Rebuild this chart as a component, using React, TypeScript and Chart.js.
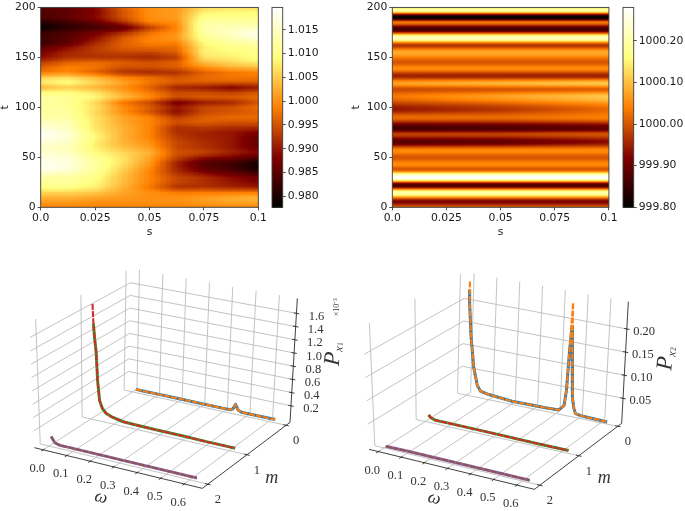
import React, { useEffect, useRef } from "react";
import { Chart, registerables } from "chart.js";

Chart.register(...registerables);

// ---------- heat map A (t from 200 down to 0, s columns) ----------
const sTicks = [0, 0.025, 0.05, 0.075, 0.1];
const sTickLabels = ["0.0", "0.025", "0.05", "0.075", "0.1"];
const tTicks = [0, 50, 100, 150, 200];
const fieldAS = [0, 0.0125, 0.025, 0.0375, 0.05, 0.0625, 0.075, 0.0875, 0.1];
const fieldAT = [200,195,190,185,180,175,170,165,160,155,150,145,140,135,130,125,120,115,110,105,100,95,90,85,80,75,70,65,60,55,50,45,40,35,30,25,20,15,10,5,0];
const fieldA = [
  [.985,.986,.989,.996,1.000,1.001,1.006,1.007,1.006],
  [.984,.985,.988,.995,1.000,1.001,1.008,1.009,1.009],
  [.984,.986,.989,.995,1.000,1.001,1.010,1.010,1.010],
  [.981,.983,.986,.992,.999,1.000,1.012,1.012,1.012],
  [.978,.981,.983,.985,.993,.999,1.013,1.014,1.014],
  [.982,.984,.987,.991,.997,1.000,1.012,1.015,1.018],
  [.983,.985,.989,.995,.999,1.001,1.011,1.014,1.017],
  [.982,.985,.991,.996,.999,.999,1.009,1.012,1.013],
  [.985,.989,.993,.996,.997,.997,1.008,1.010,1.011],
  [.988,.991,.993,.994,.994,.996,1.008,1.009,1.010],
  [.989,.992,.992,.992,.991,.993,1.007,1.008,1.010],
  [.993,.996,.997,.996,.995,.996,1.004,1.006,1.008],
  [.996,.999,.998,.995,.995,.996,1.000,1.003,1.004],
  [.998,.999,.996,.992,.991,.992,.996,.998,.999],
  [1.005,1.006,1.003,.999,.997,.995,.997,.998,.998],
  [1.008,1.010,1.006,1.002,.998,.996,.996,.996,.996],
  [1.003,1.005,1.003,1.000,.996,.991,.990,.988,.990],
  [1.009,1.009,1.007,1.002,.998,.994,.994,.993,.995],
  [1.012,1.011,1.009,1.004,1.000,.995,.996,.996,.997],
  [1.012,1.011,1.006,.998,.994,.987,.990,.991,.995],
  [1.012,1.011,1.007,1.000,.996,.990,.994,.995,.997],
  [1.012,1.012,1.006,1.000,.995,.989,.994,.995,.996],
  [1.012,1.012,1.007,1.002,.999,.993,.996,.997,.997],
  [1.015,1.014,1.007,1.002,.999,.995,.996,.995,.995],
  [1.016,1.014,1.007,1.003,.999,.992,.993,.992,.992],
  [1.019,1.016,1.008,1.003,.999,.992,.991,.990,.988],
  [1.019,1.016,1.009,1.003,.999,.993,.991,.990,.986],
  [1.017,1.015,1.008,1.003,1.000,.994,.992,.990,.986],
  [1.015,1.014,1.008,1.004,1.001,.994,.992,.990,.986],
  [1.016,1.015,1.009,1.006,1.003,.995,.994,.991,.989],
  [1.017,1.016,1.011,1.007,1.002,.994,.990,.988,.985],
  [1.018,1.017,1.012,1.007,1.001,.991,.985,.983,.980],
  [1.019,1.017,1.012,1.006,1.000,.991,.985,.983,.979],
  [1.016,1.015,1.011,1.005,.999,.992,.988,.985,.982],
  [1.012,1.012,1.010,1.004,.999,.994,.992,.989,.987],
  [1.011,1.012,1.009,1.004,.999,.994,.992,.990,.988],
  [1.010,1.010,1.008,1.003,.998,.992,.992,.991,.990],
  [1.006,1.006,1.005,1.002,1.000,.998,.998,.998,.998],
  [1.003,1.003,1.002,1.001,1.000,1.000,1.001,1.002,1.003],
  [1.001,1.001,1.000,1.000,1.000,1.000,1.001,1.002,1.002],
  [.999,.999,.999,.999,.999,.999,.999,.999,.999],
];
const colorbarATicks = [0.98, 0.985, 0.99, 0.995, 1.0, 1.005, 1.01, 1.015];
const colorbarALabels = ["0.980", "0.985", "0.990", "0.995", "1.000", "1.005", "1.010", "1.015"];
const rangeA = [0.9777, 1.0197];

// ---------- heat map B ----------
const fieldBS = [0, 0.05, 0.1];
const fieldBT = [200,197.5,190,185,178,169.5,162,155,145,139,131.5,124,118,111,98,90,79,73,65.5,56.6,50,43,38,30,22,14.5,5.6,0];
const fieldBLeft = [1000.12,1000.2,999.8,1000.03,999.86,1000.22,999.97,1000.08,1000.0,1000.05,999.95,1000.07,999.99,1000.03,999.94,1000.02,999.86,999.98,999.88,1000.05,1000.0,1000.05,1000.0,1000.28,999.87,1000.2,999.92,1000.0];
const fieldBMid = [1000.12,1000.2,999.8,1000.03,999.86,1000.22,999.97,1000.08,1000.0,1000.05,999.95,1000.09,1000.0,1000.07,999.97,1000.02,999.87,999.98,999.89,1000.05,1000.0,1000.05,1000.0,1000.28,999.87,1000.2,999.92,1000.0];
const fieldBRight = [1000.12,1000.2,999.8,1000.03,999.86,1000.22,999.97,1000.08,1000.0,1000.05,999.95,1000.11,1000.01,1000.11,1000.02,1000.04,999.89,1000.0,999.93,1000.05,1000.0,1000.05,1000.0,1000.28,999.87,1000.2,999.92,1000.0];
const colorbarBTicks = [999.8, 999.9, 1000.0, 1000.1, 1000.2];
const colorbarBLabels = ["999.80", "999.90", "1000.00", "1000.10", "1000.20"];
const rangeB = [999.8, 1000.28];

// ---------- 3D panels: omega, m, P ----------
const omegaTicks = [0, 0.1, 0.2, 0.3, 0.4, 0.5, 0.6];
const omegaLabels = ["0.0", "0.1", "0.2", "0.3", "0.4", "0.5", "0.6"];
const mTicks = [0, 1, 2];

const leftM0Omega = [.0135,.05,.1,.2,.3,.4,.43,.44,.447,.452,.458,.465,.48,.5,.55,.628];
const leftM0Blue = [.0,.0,.0,.0,.0,.0,.0,.02,.06,.1,.06,.02,.0,.0,.0,.0];
const leftM0Orange = [.0,.0,.0,.0,.0,.0,.0,.02,.06,.1,.06,.02,.0,.0,.0,.0];
const leftM1Omega = [.01,.013,.018,.024,.03,.038,.05,.065,.09,.14,.2,.3,.4,.5,.6,.625];
const leftM1Red = [1.72,1.45,1.2,1.0,.55,.26,.15,.09,.055,.02,.015,.01,.01,.005,.005,.005];
const leftM1Green = [null,1.42,1.2,1.0,.55,.26,.15,.09,.055,.02,.015,.01,.01,.005,.005,.005];
const leftM2Omega = [.01,.025,.045,.075,.2,.4,.63];
const leftM2Purple = [.1,.02,.0,.0,.0,.0,.0];
const leftM2Brown = [.1,.02,.0,.0,.0,.0,.0];
const leftZTicks = [0.2, 0.4, 0.6, 0.8, 1.0, 1.2, 1.4, 1.6];
const leftZLabels = ["0.2", "0.4", "0.6", "0.8", "1.0", "1.2", "1.4", "1.6"];

const rightM0Omega = [.002,.003,.0127,.029,.047,.062,.099,.203,.352,.412,.434,.4417,.4477,.4536,.4596,.47,.478,.486,.516,.628];
const rightM0Orange = [.2465,.2015,.13,.0595,.022,.011,.0073,.003,.0037,.0051,.0167,.05,.1378,.242,.138,.038,.015,.0044,.0022,.0005];
const rightM0Blue = [.227,.2015,.13,.0595,.022,.011,.0073,.003,.0037,.0051,.0167,.05,.1378,.19,.138,.038,.015,.0044,.0022,.0005];
const rightM1Omega = [.015,.025,.044,.088,.3,.5,.63];
const rightM1Red = [.0117,.007,.0037,.0037,.003,.002,.002];
const rightM1Green = [.0117,.007,.0037,.0037,.003,.002,.002];
const rightM2Omega = [.008,.1,.3,.5,.632];
const rightM2Purple = [.0003,.001,.001,.001,.001];
const rightM2Brown = [.0003,.001,.001,.001,.001];
const rightZTicks = [0.05, 0.1, 0.15, 0.2];
const rightZLabels = ["0.05", "0.10", "0.15", "0.20"];

const TEXT = "#1a1a1a";
const HEAT_FONT = { family: "'DejaVu Sans'", size: 10.8, lineHeight: 1 };

function clamp01(x: number) { return Math.max(0, Math.min(1, x)); }
function afmhot(x: number) {
  return [clamp01(2 * x) * 255, clamp01(2 * x - 0.5) * 255, clamp01(2 * x - 1) * 255];
}
function findSeg(keys: number[], v: number) {
  const asc = keys[1] > keys[0];
  for (let i = 0; i < keys.length - 1; i++) {
    const a = keys[i], b = keys[i + 1];
    if (asc ? v <= b : v >= b) return { i, f: clamp01((v - a) / (b - a)) };
  }
  return { i: keys.length - 2, f: 1 };
}
function lookupA(s: number, t: number) {
  const a = findSeg(fieldAS, s), b = findSeg(fieldAT, t);
  const e = b.f * b.f * (3 - 2 * b.f);
  const r0 = fieldA[b.i], r1 = fieldA[b.i + 1];
  const v0 = r0[a.i] + (r0[a.i + 1] - r0[a.i]) * a.f;
  const v1 = r1[a.i] + (r1[a.i + 1] - r1[a.i]) * a.f;
  return v0 + (v1 - v0) * e;
}
const BLOCKS = 40;
function sampleA(s: number, t: number) {
  const ss = (Math.floor(clamp01(s / 0.1) * BLOCKS * 0.9999) + 0.5) / BLOCKS * 0.1;
  const tt = (Math.floor(clamp01(t / 200) * BLOCKS * 0.9999) + 0.5) / BLOCKS * 200;
  return 0.35 * lookupA(ss, tt) + 0.65 * lookupA(s, t);
}
const fieldBCols = [fieldBLeft, fieldBMid, fieldBRight];
function sampleB(s: number, t: number) {
  const a = findSeg(fieldBS, s), b = findSeg(fieldBT, t);
  const e = b.f * b.f * (3 - 2 * b.f);
  const at = (c: number[]) => c[b.i] + (c[b.i + 1] - c[b.i]) * e;
  const v0 = at(fieldBCols[a.i]), v1 = at(fieldBCols[a.i + 1]);
  return v0 + (v1 - v0) * a.f;
}

function paintRaster(chart: any, valueAt: (x: number, y: number) => number, range: number[]) {
  const { ctx, chartArea: ca, scales } = chart;
  const l = Math.floor(ca.left), t = Math.floor(ca.top);
  const w = Math.ceil(ca.right) - l, h = Math.ceil(ca.bottom) - t;
  const off = document.createElement("canvas");
  off.width = w; off.height = h;
  const oc = off.getContext("2d")!;
  const img = oc.createImageData(w, h);
  for (let py = 0; py < h; py++) {
    for (let px = 0; px < w; px++) {
      const sv = scales.x.getValueForPixel(l + px + 0.5);
      const tv = scales.y.getValueForPixel(t + py + 0.5);
      const c = afmhot((valueAt(sv, tv) - range[0]) / (range[1] - range[0]));
      const k = (py * w + px) * 4;
      img.data[k] = c[0]; img.data[k + 1] = c[1]; img.data[k + 2] = c[2]; img.data[k + 3] = 255;
    }
  }
  oc.putImageData(img, 0, 0);
  ctx.save();
  ctx.beginPath();
  ctx.rect(ca.left, ca.top, ca.right - ca.left, ca.bottom - ca.top);
  ctx.clip();
  ctx.drawImage(off, l, t);
  ctx.restore();
}
function frame(chart: any) {
  const { ctx, chartArea: ca } = chart;
  ctx.save();
  ctx.strokeStyle = "#3a3a3a";
  ctx.lineWidth = 0.9;
  ctx.strokeRect(ca.left, ca.top, ca.right - ca.left, ca.bottom - ca.top);
  ctx.restore();
}

function heatConfig(valueAt: any, range: number[], yAxisWidth: number, padRight: number, titlePad: number, points: any[]) {
  return {
    type: "scatter",
    data: { datasets: [{ data: points, pointRadius: 0, showLine: false }] },
    options: {
      animation: false, responsive: false, events: [],
      layout: { padding: { top: 5, right: padRight, left: 0, bottom: 0 } },
      plugins: { legend: { display: false }, tooltip: { enabled: false }, title: { display: false } },
      scales: {
        x: {
          type: "linear", min: 0, max: 0.1,
          afterBuildTicks: (sc: any) => { sc.ticks = sTicks.map((value) => ({ value })); },
          afterFit: (sc: any) => { sc.height = 240 - 207.3; },
          grid: { drawOnChartArea: false, drawTicks: true, tickLength: 3, color: "#3a3a3a", lineWidth: 0.9 },
          border: { display: false },
          ticks: { color: TEXT, font: HEAT_FONT, padding: 2.5, maxRotation: 0, autoSkip: false, callback: (_: any, i: number) => sTickLabels[i] },
          title: { display: true, text: "s", color: TEXT, font: HEAT_FONT, padding: { top: 0, bottom: 2 } },
        },
        y: {
          type: "linear", min: 0, max: 200,
          afterBuildTicks: (sc: any) => { sc.ticks = tTicks.map((value) => ({ value })); },
          afterFit: (sc: any) => { sc.width = yAxisWidth; },
          grid: { drawOnChartArea: false, drawTicks: true, tickLength: 3, color: "#3a3a3a", lineWidth: 0.9 },
          border: { display: false },
          ticks: { color: TEXT, font: HEAT_FONT, padding: 2, autoSkip: false, callback: (v: any) => String(v) },
          title: { display: true, text: "t", color: TEXT, font: HEAT_FONT, padding: { top: titlePad, bottom: 0 } },
        },
      },
    },
    plugins: [{
      id: "raster",
      beforeDatasetsDraw: (c: any) => paintRaster(c, valueAt, range),
      afterDraw: frame,
    }],
  };
}

function colorbarConfig(range: number[], tickVals: number[], tickLabels: string[], axisWidth: number) {
  return {
    type: "scatter",
    data: { datasets: [{ data: tickVals.map((y) => ({ x: 0, y })), pointRadius: 0, showLine: false }] },
    options: {
      animation: false, responsive: false, events: [],
      layout: { padding: { top: 5, bottom: 240 - 207.3, left: 2, right: 0 } },
      plugins: { legend: { display: false }, tooltip: { enabled: false } },
      scales: {
        x: { type: "linear", min: 0, max: 1, display: false },
        y: {
          type: "linear", position: "right", min: range[0], max: range[1],
          afterBuildTicks: (sc: any) => { sc.ticks = tickVals.map((value) => ({ value })); },
          afterFit: (sc: any) => { sc.width = axisWidth; },
          grid: { drawOnChartArea: false, drawTicks: true, tickLength: 3, color: "#3a3a3a", lineWidth: 0.9 },
          border: { display: false },
          ticks: { color: TEXT, font: HEAT_FONT, padding: 2, autoSkip: false, callback: (_: any, i: number) => tickLabels[i] },
        },
      },
    },
    plugins: [{
      id: "bar",
      beforeDatasetsDraw: (c: any) => {
        const { ctx, chartArea: ca, scales } = c;
        for (let py = Math.floor(ca.top); py < ca.bottom; py++) {
          const x = (scales.y.getValueForPixel(py + 0.5) - range[0]) / (range[1] - range[0]);
          const col = afmhot(x);
          ctx.fillStyle = `rgb(${col[0]},${col[1]},${col[2]})`;
          ctx.fillRect(ca.left, py, ca.right - ca.left, 1);
        }
      },
      afterDraw: frame,
    }],
  };
}

type Box = { om: number[]; m: number[]; z: number[]; c: Record<string, number[]> };
function project(b: Box, om: number, m: number, p: number) {
  const u = (om - b.om[0]) / (b.om[1] - b.om[0]);
  const v = (m - b.m[0]) / (b.m[1] - b.m[0]);
  const w = (p - b.z[0]) / (b.z[1] - b.z[0]);
  const out = [0, 1].map((k) => {
    const g = (a: string) => b.c[a][k];
    const y0 = g("000") * (1 - u) + g("100") * u;
    const y1 = g("010") * (1 - u) + g("110") * u;
    const y2 = g("001") * (1 - u) + g("101") * u;
    const y3 = g("011") * (1 - u) + g("111") * u;
    const lo = y0 * (1 - v) + y1 * v;
    const hi = y2 * (1 - v) + y3 * v;
    return lo * (1 - w) + hi * w;
  });
  return { x: out[0], y: out[1] };
}

type Series = { om: number[]; m: number; p: (number | null)[]; color: string; width: number; dash?: number[] };
type Panel3D = {
  box: Box; zTicks: number[]; zLabels: string[]; series: Series[]; sub: string; scaleNote?: string;
  zOff: number[]; pos: { omega: number[]; m: number[]; P: number[]; px: number[]; ps: number[]; note?: number[] };
};

const BLUE = "#1f77b4", ORANGE = "#ff7f0e", GREEN = "#2ca02c", RED = "#d62728", PURPLE = "#9467bd", BROWN = "#8c564b";
const DASH = [6, 1.2];
const WIDE = 3, THIN = 2.1;

const leftPanel: Panel3D = {
  box: {
    om: [-0.038, 0.677], m: [-0.1, 2.14], z: [-0.05, 1.827],
    c: { "000": [385, 412], "100": [870, 517], "010": [103, 593], "110": [607, 715], "001": [392, 55], "101": [892, 145], "011": [88, 217], "111": [622, 310] },
  },
  zTicks: leftZTicks, zLabels: leftZLabels, sub: "1", scaleNote: "×10⁻³", zOff: [60, 10],
  series: [
    { om: leftM0Omega, m: 0, p: leftM0Blue, color: BLUE, width: WIDE },
    { om: leftM0Omega, m: 0, p: leftM0Orange, color: ORANGE, width: THIN, dash: DASH },
    { om: leftM1Omega, m: 1, p: leftM1Green, color: GREEN, width: WIDE },
    { om: leftM1Omega, m: 1, p: leftM1Red, color: RED, width: THIN, dash: DASH },
    { om: leftM2Omega, m: 2, p: leftM2Purple, color: PURPLE, width: WIDE },
    { om: leftM2Omega, m: 2, p: leftM2Brown, color: BROWN, width: THIN, dash: DASH },
  ],
  pos: { omega: [303, 742], m: [815, 685], P: [1000, 326], px: [1018, 297], ps: [1022, 282], note: [1012, 172] },
};
const rightPanel: Panel3D = {
  box: {
    om: [-0.04, 0.676], m: [-0.1, 2.14], z: [-0.004, 0.259],
    c: { "000": [350, 422], "100": [830, 520], "010": [72, 598], "110": [568, 718], "001": [360, 65], "101": [850, 155], "011": [54, 230], "111": [585, 320] },
  },
  zTicks: rightZTicks, zLabels: rightZLabels, sub: "2", zOff: [52, 8],
  series: [
    { om: rightM0Omega, m: 0, p: rightM0Blue, color: BLUE, width: WIDE },
    { om: rightM0Omega, m: 0, p: rightM0Orange, color: ORANGE, width: THIN, dash: DASH },
    { om: rightM1Omega, m: 1, p: rightM1Green, color: GREEN, width: WIDE },
    { om: rightM1Omega, m: 1, p: rightM1Red, color: RED, width: THIN, dash: DASH },
    { om: rightM2Omega, m: 2, p: rightM2Purple, color: PURPLE, width: WIDE },
    { om: rightM2Omega, m: 2, p: rightM2Brown, color: BROWN, width: THIN, dash: DASH },
  ],
  pos: { omega: [268, 745], m: [778, 685], P: [962, 340], px: [982, 312], ps: [986, 297] },
};

function panelConfig(panel: Panel3D, W: number, H: number) {
  const b = panel.box;
  const [o0, o1] = b.om, [m0, m1] = b.m, [z0, z1] = b.z;
  const P = (o: number, m: number, z: number) => project(b, o, m, z);
  const seg = (a: any, c: any, color: string, width: number) => ({
    data: [a, c], borderColor: color, borderWidth: width, pointRadius: 0, showLine: true, borderCapStyle: "butt",
  });
  const GRID = "#bcbcbc", AXIS = "#2a2a2a";
  const ds: any[] = [];
  omegaTicks.forEach((o) => {
    ds.push(seg(P(o, m0, z0), P(o, m1, z0), GRID, 0.9));
    ds.push(seg(P(o, m0, z0), P(o, m0, z1), GRID, 0.9));
  });
  mTicks.forEach((m) => {
    ds.push(seg(P(o0, m, z0), P(o1, m, z0), GRID, 0.9));
    ds.push(seg(P(o0, m, z0), P(o0, m, z1), GRID, 0.9));
  });
  panel.zTicks.forEach((z) => {
    ds.push(seg(P(o0, m0, z), P(o1, m0, z), GRID, 0.9));
    ds.push(seg(P(o0, m0, z), P(o0, m1, z), GRID, 0.9));
  });
  ds.push(seg(P(o0, m1, z0), P(o1, m1, z0), AXIS, 0.9));
  ds.push(seg(P(o1, m0, z0), P(o1, m1, z0), AXIS, 0.9));
  ds.push(seg(P(o1, m0, z0), P(o1, m0, z1), AXIS, 0.9));
  omegaTicks.forEach((o) => ds.push(seg(P(o, m1 - 0.03, z0), P(o, m1 + 0.05, z0), AXIS, 0.9)));
  mTicks.forEach((m) => ds.push(seg(P(o1 - 0.012, m, z0), P(o1 + 0.012, m, z0), AXIS, 0.9)));
  panel.zTicks.forEach((z) => ds.push(seg(P(o1 - 0.012, m0, z), P(o1 + 0.012, m0, z), AXIS, 0.9)));
  panel.series.forEach((s) => {
    ds.push({
      data: s.om.map((o, i) => (s.p[i] === null ? null : P(o, s.m, s.p[i] as number))).filter(Boolean),
      borderColor: s.color, borderWidth: s.width, borderDash: s.dash || [], pointRadius: 0, showLine: true,
      borderCapStyle: "butt", borderJoinStyle: "round", tension: 0,
    });
  });
  // Chart.js paints the first dataset last, so reverse to keep grid underneath and dashes on top.
  ds.reverse();
  const SERIF = "'Liberation Serif'";
  return {
    type: "scatter",
    data: { datasets: ds },
    options: {
      animation: false, responsive: false, events: [],
      layout: { padding: 0 },
      plugins: { legend: { display: false }, tooltip: { enabled: false } },
      scales: {
        x: { type: "linear", min: 0, max: W * 3, display: false },
        y: { type: "linear", min: 0, max: H * 3, reverse: true, display: false },
      },
    },
    plugins: [{
      id: "labels3d",
      afterDraw: (c: any) => {
        const { ctx, scales } = c;
        const X = (v: number) => scales.x.getPixelForValue(v);
        const Y = (v: number) => scales.y.getPixelForValue(v);
        const text = (s: string, x: number, y: number, font: string, rot = 0, color = "#333") => {
          ctx.save();
          ctx.translate(X(x), Y(y));
          ctx.rotate(rot);
          ctx.font = font; ctx.fillStyle = color;
          ctx.textAlign = "center"; ctx.textBaseline = "middle";
          ctx.fillText(s, 0, 0);
          ctx.restore();
        };
        const tickFont = `12.5px ${SERIF}`;
        omegaTicks.forEach((o, i) => {
          const p = P(o, m1, z0);
          text(omegaLabels[i], p.x - 18, p.y + 56, tickFont);
        });
        mTicks.forEach((m) => {
          const p = P(o1, m, z0);
          text(String(m), p.x + 30, p.y + 47, tickFont);
        });
        panel.zTicks.forEach((z, i) => {
          const p = P(o1, m0, z);
          text(panel.zLabels[i], p.x + panel.zOff[0], p.y + panel.zOff[1], tickFont);
        });
        const italic = `italic 18px ${SERIF}`;
        text("ω", panel.pos.omega[0], panel.pos.omega[1], italic, 0.24);
        text("m", panel.pos.m[0], panel.pos.m[1], italic);
        const rot = -Math.PI / 2 + 0.08;
        text("P", panel.pos.P[0], panel.pos.P[1], `italic 23px ${SERIF}`, rot);
        text("x", panel.pos.px[0], panel.pos.px[1], `italic 12px ${SERIF}`, rot);
        text(panel.sub, panel.pos.ps[0], panel.pos.ps[1], `8px ${SERIF}`, rot);
        if (panel.scaleNote && panel.pos.note) {
          text(panel.scaleNote, panel.pos.note[0], panel.pos.note[1], `8px ${SERIF}`, -Math.PI / 2);
        }
      },
    }],
  };
}

function ChartCanvas({ left, top, width, height, make }: any) {
  const ref = useRef<HTMLCanvasElement>(null);
  useEffect(() => {
    const chart = new Chart(ref.current as any, make());
    return () => chart.destroy();
  }, []);
  return (
    <canvas
      ref={ref}
      width={width}
      height={height}
      style={{ position: "absolute", left, top, width, height, filter: "blur(0.35px)" }}
    />
  );
}

export default function App() {
  const ptsA = fieldAT.flatMap((t, r) => fieldAS.map((s, c) => ({ x: s, y: t, v: fieldA[r][c] })));
  const ptsB = fieldBT.flatMap((t, r) => fieldBS.map((s, c) => ({ x: s, y: t, v: fieldBCols[c][r] })));
  return (
    <div style={{ position: "absolute", left: 0, top: 0, width: 685, height: 511, overflow: "hidden", background: "#fff" }}>
      <ChartCanvas left={0} top={0} width={270} height={240} make={() => heatConfig(sampleA, rangeA, 40.7, 11.7, 0, ptsA)} />
      <ChartCanvas left={270} top={0} width={72} height={240} make={() => colorbarConfig(rangeA, colorbarATicks, colorbarALabels, 72 - 2 - 10.7)} />
      <ChartCanvas left={345} top={0} width={275} height={240} make={() => heatConfig(sampleB, rangeB, 47.3, 10.3, 6, ptsB)} />
      <ChartCanvas left={621} top={0} width={64} height={240} make={() => colorbarConfig(rangeB, colorbarBTicks, colorbarBLabels, 64 - 2 - 10.7)} />
      <ChartCanvas left={0} top={250} width={345} height={261} make={() => panelConfig(leftPanel, 345, 261)} />
      <ChartCanvas left={345} top={250} width={340} height={261} make={() => panelConfig(rightPanel, 340, 261)} />
    </div>
  );
}
